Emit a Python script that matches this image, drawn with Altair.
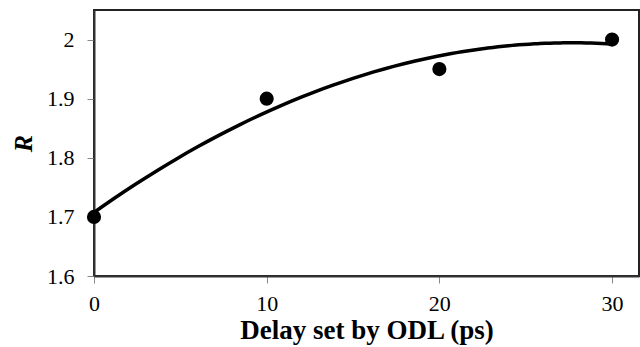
import altair as alt
import pandas as pd

delay_ps = [0, 10, 20, 30]
r_values = [1.70, 1.90, 1.95, 2.00]
x_ticks = [0, 10, 20, 30]
y_ticks = [1.6, 1.7, 1.8, 1.9, 2.0]

df = pd.DataFrame({"delay": delay_ps, "R": r_values})

FONT = "'Liberation Serif', 'Times New Roman', serif"

x_enc = alt.X(
    "delay:Q",
    scale=alt.Scale(domain=[0, 31.56], nice=False, zero=False),
    axis=alt.Axis(
        title="Delay set by ODL (ps)",
        values=x_ticks,
        format="d",
        grid=False,
        labelFlush=False,
        labelOverlap=False,
        tickColor="#888888",
        tickSize=7,
        domainColor="#333333",
        domainWidth=2,
        labelFontSize=22,
        labelFont=FONT,
        labelColor="black",
        labelPadding=10,
        titleFontSize=27,
        titleFont=FONT,
        titleFontWeight="bold",
        titleColor="black",
        titlePadding=3,
    ),
)
y_enc = alt.Y(
    "R:Q",
    scale=alt.Scale(domain=[1.6, 2.05], nice=False, zero=False),
    axis=alt.Axis(
        title="R",
        values=y_ticks,
        format="~g",
        grid=False,
        labelFlush=False,
        labelOverlap=False,
        tickColor="#888888",
        tickSize=7,
        domainColor="#333333",
        domainWidth=2,
        labelFontSize=22,
        labelFont=FONT,
        labelColor="black",
        labelPadding=13,
        titleFontSize=26,
        titleFont=FONT,
        titleFontWeight="bold",
        titleFontStyle="italic",
        titleColor="black",
        titlePadding=10,
    ),
)

points = alt.Chart(df).mark_circle(size=200, color="black", opacity=1).encode(x=x_enc, y=y_enc)

trend = (
    alt.Chart(df)
    .transform_regression("delay", "R", method="poly", order=2, extent=[0, 30])
    .mark_line(color="black", strokeWidth=3.5, interpolate="monotone")
    .encode(x=x_enc, y=y_enc)
)

chart = (
    alt.layer(trend, points)
    .properties(
        width=545,
        height=266,
        padding={"left": 94, "top": 10, "right": 1, "bottom": 71},
        autosize=alt.AutoSizeParams(type="none"),
        background="white",
    )
    .configure_view(stroke="#222222", strokeWidth=2)
)

chart.save("out.html", embed_options={"renderer": "svg", "actions": False})
